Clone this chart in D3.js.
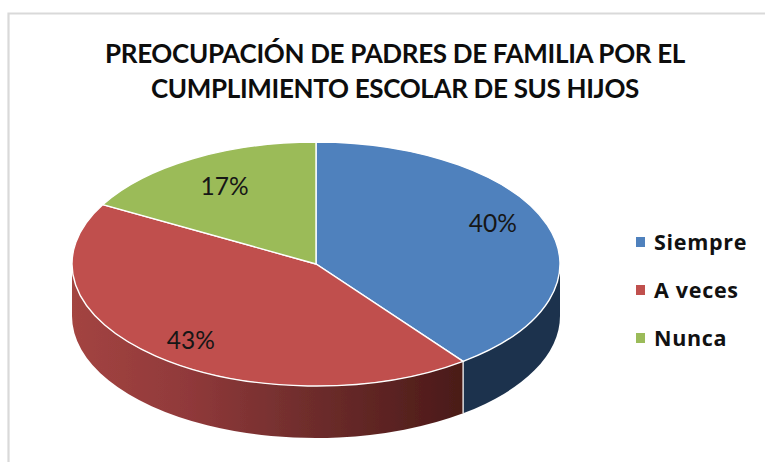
<!DOCTYPE html>
<html><head><meta charset="utf-8">
<script src="https://cdn.jsdelivr.net/npm/d3@7"></script>
<style>html,body{margin:0;padding:0;background:#fff}svg{display:block}</style>
</head><body><svg id="c" width="765" height="462"></svg>
<script>
const categories = ["Siempre", "A veces", "Nunca"];
const values = [39.7, 43.4, 16.9];
const titleLines = ["PREOCUPACIÓN DE PADRES DE FAMILIA POR EL", "CUMPLIMIENTO ESCOLAR DE SUS HIJOS"];

const topColors = ["#4f81bd", "#c0504d", "#9bbb59"];
const font = "Lato, 'Open Sans', sans-serif";
const svg = d3.select("#c");
const cx = 316, cy = 264, R = 244, squash = 0.5, depth = 52;

// frame
svg.append("path").attr("d", "M8.5,462V13.5H765").attr("fill", "none").attr("stroke", "#d9d9d9").attr("stroke-width", 2.2);

// title
svg.append("g").selectAll("text").data(titleLines).join("text")
  .attr("x", 395).attr("y", (d, i) => 63 + i * 35)
  .attr("text-anchor", "middle").attr("font-family", font).attr("font-weight", 700)
  .attr("font-size", 26).attr("fill", "#0d0d0d").attr("letter-spacing", -0.33)
  .text(d => d);

const defs = svg.append("defs");
const grad = defs.append("linearGradient").attr("id", "redSide").attr("gradientUnits", "userSpaceOnUse")
  .attr("x1", -R).attr("x2", 147).attr("y1", 0).attr("y2", 0);
[[0, "#a34441"], [0.3, "#90393a"], [0.6, "#6f2d2c"], [1, "#4a1a18"]].forEach(s =>
  grad.append("stop").attr("offset", s[0]).attr("stop-color", s[1]));
defs.append("filter").attr("id", "soft").append("feGaussianBlur").attr("stdDeviation", 0.35);

const pie = d3.pie().sort(null).value(d => d);
const slices = pie(values);
const arc = d3.arc().innerRadius(0).outerRadius(R);
const g = svg.append("g").attr("transform", `translate(${cx},${cy}) scale(1,${squash})`).attr("filter", "url(#soft)");

// side wall: visible lower half of the rim, clipped per slice
const sideFill = ["#1d334e", "url(#redSide)"];
const toCanvas = a => a - Math.PI / 2;
[0, 1].forEach(i => {
  const a0 = Math.max(slices[i].startAngle, Math.PI / 2), a1 = Math.min(slices[i].endAngle, 3 * Math.PI / 2);
  const p = d3.path();
  p.arc(0, 0, R, toCanvas(a0), toCanvas(a1), false);
  p.arc(0, depth / squash, R, toCanvas(a1), toCanvas(a0), true);
  p.closePath();
  g.append("path").attr("d", p.toString()).attr("fill", sideFill[i]);
});
// divider on the wall at the slice boundary
const b = slices[0].endAngle;
g.append("line")
  .attr("x1", R * Math.sin(b)).attr("y1", -R * Math.cos(b))
  .attr("x2", R * Math.sin(b)).attr("y2", -R * Math.cos(b) + depth / squash)
  .attr("stroke", "#e8e8e8").attr("stroke-width", 1.4).attr("vector-effect", "non-scaling-stroke");

// top face
g.selectAll("path.top").data(slices).join("path").attr("class", "top")
  .attr("d", arc).attr("fill", (d, i) => topColors[i])
  .attr("stroke", "#fff").attr("stroke-width", 1.4).attr("vector-effect", "non-scaling-stroke");

// labels
const labelR = [0.76, 0.8, 0.74], labelDx = [1, 3, 0], labelDy = [-11, 3, 1];
svg.append("g").selectAll("text").data(slices).join("text")
  .attr("x", (d, i) => cx + labelDx[i] + R * labelR[i] * Math.sin((d.startAngle + d.endAngle) / 2))
  .attr("y", (d, i) => cy - R * squash * labelR[i] * Math.cos((d.startAngle + d.endAngle) / 2) + labelDy[i] + 8)
  .attr("text-anchor", "middle").attr("font-family", font).attr("font-size", 24.5).attr("fill", "#161616")
  .text(d => Math.round(d.value) + "%");

// legend
const legendY = d3.scalePoint().domain(categories).range([242, 338]);
const lg = svg.append("g").selectAll("g").data(categories).join("g")
  .attr("transform", d => `translate(636,${legendY(d)})`);
lg.append("rect").attr("x", 0).attr("y", -5).attr("width", 9).attr("height", 10).attr("fill", (d, i) => topColors[i]);
lg.append("text").attr("x", 18).attr("y", 8).attr("font-family", "'Open Sans', sans-serif").attr("font-weight", 700)
  .attr("font-size", 21.5).attr("letter-spacing", 0.7).attr("fill", "#111").text(d => d);
</script></body></html>
